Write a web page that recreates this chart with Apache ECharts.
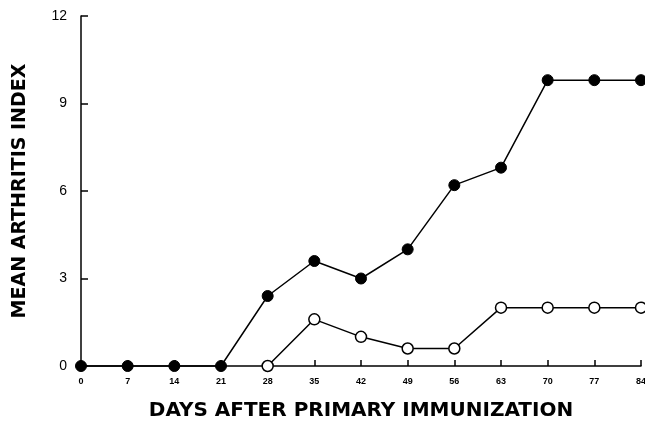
<!DOCTYPE html>
<html>
<head>
<meta charset="utf-8">
<script src="https://cdn.jsdelivr.net/npm/echarts@6/dist/echarts.min.js"></script>
<style>
  html, body { margin: 0; padding: 0; background: #fff; }
  #chart { width: 645px; height: 422px; }
</style>
</head>
<body>
<div id="chart"></div>
<script>
// days after primary immunization
const days = [0, 7, 14, 21, 28, 35, 42, 49, 56, 63, 70, 77, 84]
// filled circles
const filledValues = [0, 0, 0, 0, 2.4, 3.6, 3.0, 4.0, 6.2, 6.8, 9.8, 9.8, 9.8]
// open circles (start at day 28)
const openDays = [28, 35, 42, 49, 56, 63, 70, 77, 84]
const openValues = [0, 1.6, 1.0, 0.6, 0.6, 2.0, 2.0, 2.0, 2.0]

const chart = echarts.init(document.getElementById('chart'))

const font = '"Liberation Sans", Arial, Helvetica, sans-serif'
const titleFont = '"DejaVu Sans", "Liberation Sans", sans-serif'

const option = {
  animation: false,
  grid: { left: 81, right: 4, top: 16, bottom: 56, outerBoundsMode: 'none' },
  xAxis: {
    type: 'value',
    min: 0,
    max: 84,
    interval: 7,
    name: 'DAYS AFTER PRIMARY IMMUNIZATION',
    nameLocation: 'middle',
    nameGap: 35,
    nameTextStyle: { fontFamily: titleFont, fontWeight: 'bold', fontSize: 20, color: '#000' },
    axisLine: { lineStyle: { color: '#000', width: 1.5 } },
    axisTick: { inside: true, length: 6, lineStyle: { color: '#000', width: 1.5 } },
    axisLabel: { fontFamily: font, fontWeight: 'bold', fontSize: 9, color: '#000', margin: 11 },
    splitLine: { show: false }
  },
  yAxis: {
    type: 'value',
    min: 0,
    max: 12,
    interval: 3,
    name: 'MEAN ARTHRITIS INDEX',
    nameLocation: 'middle',
    nameGap: 51,
    nameRotate: 90,
    nameTextStyle: { fontFamily: titleFont, fontWeight: 'bold', fontSize: 19, color: '#000' },
    axisLine: { show: true, lineStyle: { color: '#000', width: 1.5 } },
    axisTick: { show: true, inside: true, length: 7, lineStyle: { color: '#000', width: 1.5 } },
    axisLabel: { fontFamily: font, fontSize: 14, color: '#000', margin: 14 },
    splitLine: { show: false }
  },
  series: [
    {
      name: 'filled',
      type: 'line',
      data: days.map((d, i) => [d, filledValues[i]]),
      symbol: 'circle',
      symbolSize: 11,
      lineStyle: { color: '#000', width: 1.5 },
      itemStyle: { color: '#000', borderColor: '#000' },
      clip: false,
      z: 3
    },
    {
      name: 'open',
      type: 'line',
      data: openDays.map((d, i) => [d, openValues[i]]),
      symbol: 'circle',
      symbolSize: 11,
      lineStyle: { color: '#000', width: 1.5 },
      itemStyle: { color: '#fff', borderColor: '#000', borderWidth: 1.5 },
      clip: false,
      z: 4
    }
  ]
}

chart.setOption(option)
</script>
</body>
</html>
